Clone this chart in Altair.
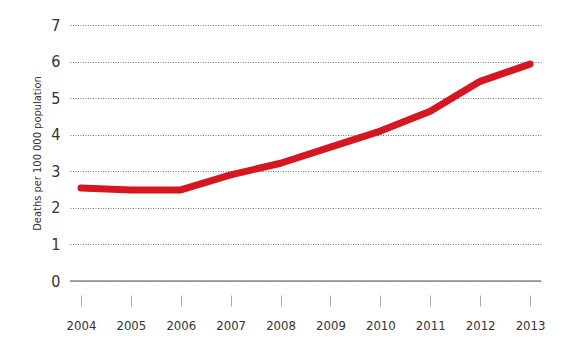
import altair as alt
import pandas as pd

years = ["2004", "2005", "2006", "2007", "2008", "2009", "2010", "2011", "2012", "2013"]
deaths = [2.54, 2.49, 2.49, 2.9, 3.22, 3.66, 4.1, 4.64, 5.46, 5.93]
y_ticks = [0, 1, 2, 3, 4, 5, 6, 7]

df = pd.DataFrame({"year": years, "deaths": deaths})
FONT = "'DejaVu Sans Condensed', 'Liberation Sans Narrow', 'Arial Narrow', sans-serif"

yscale = alt.Scale(domain=[0, 7], nice=False)
yaxis = alt.Axis(title="Deaths per 100 000 population", values=y_ticks, tickCount=8,
                 labelOverlap=False,
                 domain=False, ticks=False, labelPadding=10, labelFontSize=16,
                 labelColor="#333333", labelFont=FONT, titleFont=FONT,
                 titleFontSize=11, titleFontWeight="normal", titleColor="#333333",
                 titlePadding=8, grid=True, gridColor="#777777",
                 gridDash=[1, 1.5], gridWidth=1)

x = alt.X("year:O", scale=alt.Scale(type="point", padding=0.22),
          axis=alt.Axis(title=None, domain=False, offset=14, tickSize=11, tickColor="#aaaaaa",
                        tickWidth=1, labelPadding=13, labelAngle=0, labelFontSize=13,
                        labelColor="#333333", labelFont=FONT, grid=False))

line = alt.Chart(df).mark_line(color="#d7171f", strokeWidth=7, strokeCap="round",
                               strokeJoin="round").encode(
    x=x, y=alt.Y("deaths:Q", scale=yscale, axis=yaxis))

base = alt.Chart(pd.DataFrame({"v": [0]})).mark_rule(color="#888888", strokeWidth=1.5).encode(
    y=alt.Y("v:Q", scale=yscale, axis=yaxis))

chart = alt.layer(line, base).properties(
    width=471, height=256,
    autosize=alt.AutoSizeParams(type="none"),
    padding={"left": 70, "top": 25, "right": 39, "bottom": 70},
    background="white",
).configure_view(stroke=None)

chart.save("out.html", embed_options={"renderer": "svg", "actions": False})
